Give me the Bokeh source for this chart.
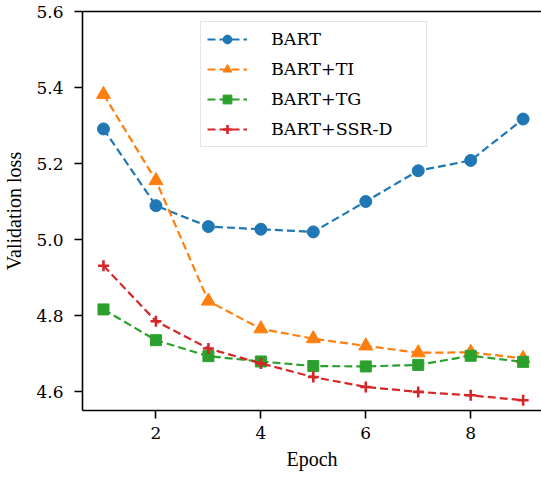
from bokeh.plotting import figure
from bokeh.models import LinearAxis, FixedTicker, Range1d, Legend, LegendItem
from bokeh.embed import file_html
from bokeh.resources import INLINE

epochs = [1, 2, 3, 4, 5, 6, 7, 8, 9]
bart = [5.291, 5.089, 5.034, 5.027, 5.020, 5.100, 5.181, 5.208, 5.317]
bart_ti = [5.382, 5.155, 4.838, 4.765, 4.739, 4.720, 4.702, 4.703, 4.687]
bart_tg = [4.816, 4.735, 4.693, 4.679, 4.667, 4.666, 4.670, 4.694, 4.678]
bart_ssr = [4.931, 4.785, 4.713, 4.674, 4.638, 4.612, 4.599, 4.590, 4.577]
labels = ["BART", "BART+TI", "BART+TG", "BART+SSR-D"]
colors = ["#1f77b4", "#ff7f0e", "#2ca02c", "#d62728"]
x_ticks = [2, 4, 6, 8]
y_ticks = [4.6, 4.8, 5.0, 5.2, 5.4, 5.6]

FONT = "Liberation Serif"
TICK_FONT = "DejaVu Serif"
LEGEND_FONT = "DejaVu Serif"

p = figure(width=541, height=477, output_backend="svg", toolbar_location=None,
           x_range=Range1d(0.6, 9.35), y_range=Range1d(4.55, 5.6),
           min_border_left=81, min_border_right=0, min_border_top=11, min_border_bottom=67,
           x_axis_label="Epoch", y_axis_label="Validation loss")
p.outline_line_color = None
p.grid.visible = False
p.background_fill_color = "white"

for ax in [p.xaxis[0], p.yaxis[0]]:
    ax.axis_line_width = 1.6
    ax.major_tick_line_width = 1.6
    ax.major_tick_out = 8
    ax.major_tick_in = 0
    ax.minor_tick_line_color = None
    ax.major_label_text_font = TICK_FONT
    ax.major_label_text_font_size = "17px"
    ax.major_label_text_font_style = "normal"
    ax.major_label_text_color = "black"
    ax.axis_label_text_font = FONT
    ax.axis_label_text_font_size = "20px"
    ax.axis_label_text_font_style = "normal"
    ax.axis_label_text_color = "black"
    ax.axis_line_color = "black"
    ax.major_tick_line_color = "black"

p.xaxis[0].ticker = FixedTicker(ticks=x_ticks)
p.yaxis[0].ticker = FixedTicker(ticks=y_ticks)
p.yaxis[0].major_label_overrides = {t: f"{t:.1f}" for t in y_ticks}
p.xaxis[0].major_label_standoff = 8
p.yaxis[0].major_label_standoff = 11
p.xaxis[0].axis_label_standoff = 6
p.yaxis[0].axis_label_standoff = 8

top = LinearAxis(ticker=FixedTicker(ticks=[]), major_label_text_font_size="0px",
                 axis_line_width=1.6, axis_line_color="black",
                 major_tick_line_color=None, minor_tick_line_color=None)
p.add_layout(top, "above")

series = [bart, bart_ti, bart_tg, bart_ssr]
markers = ["circle", "triangle", "square", "cross"]
sizes = [12, 14, 11, 11]
items = []
for vals, lab, col, mk, sz in zip(series, labels, colors, markers, sizes):
    ln = p.line(epochs, vals, line_color=col, line_width=2.2, line_dash="8 4")
    if mk == "cross":
        sc = p.scatter(epochs, vals, marker=mk, size=sz, line_color=col, line_width=2.6)
    else:
        sc = p.scatter(epochs, vals, marker=mk, size=sz, fill_color=col, line_color=col, line_width=1)
    items.append(LegendItem(label=lab, renderers=[ln, sc]))

legend = Legend(items=items, location=(118, 263), margin=0, padding=6,
                spacing=8, glyph_width=40, glyph_height=22, label_height=22,
                label_width=149, label_standoff=24,
                label_text_font=LEGEND_FONT, label_text_font_size="17.5px",
                label_text_font_style="normal", label_text_color="black",
                border_line_color="#cccccc", border_line_width=1.5,
                background_fill_color="white", background_fill_alpha=0.8)
p.add_layout(legend, "center")

open("out.html", "w").write(file_html(p, INLINE))
